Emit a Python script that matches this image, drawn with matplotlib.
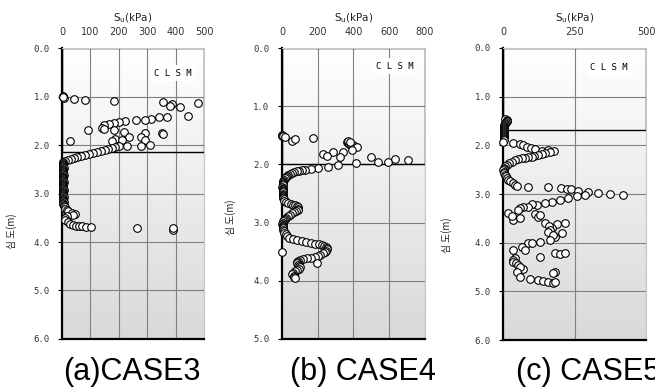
import numpy as np
import matplotlib
matplotlib.use('Agg')
import matplotlib.pyplot as plt
from matplotlib.patches import Rectangle

# ---- data (Su in kPa, depth in m) ----
case3_su = [3, 5, 7, 4, 43, 81, 184, 357, 388, 417, 380, 478, 443, 369, 343, 313, 292, 262,
            222, 202, 184, 166, 149, 140, 149, 93, 182, 219, 292, 353, 355, 236, 278, 187,
            210, 292, 175, 29, 228, 278, 311,
            200, 188, 175, 162, 150, 137, 124, 110, 96, 82, 68, 54, 42, 30, 20, 11, 5,
            4, 3, 5, 2, 4, 6, 3, 5, 4, 2, 3, 5, 6, 4, 3, 2, 4, 5, 3, 4, 6, 5, 3, 2,
            4, 5, 3, 4, 6, 5, 4, 3, 2, 4, 5, 6, 4, 3, 5, 4, 6, 5, 4, 6, 7,
            9, 11, 16, 22, 34, 46, 40, 18, 10, 11, 20, 28, 38, 48, 60, 72, 86, 102,
            263, 392, 390]
case3_depth = [0.98, 1.00, 1.02, 1.01, 1.06, 1.07, 1.09, 1.11, 1.16, 1.21, 1.19, 1.13, 1.40,
               1.42, 1.43, 1.46, 1.48, 1.49, 1.51, 1.53, 1.55, 1.57, 1.59, 1.64, 1.67, 1.69,
               1.70, 1.73, 1.75, 1.76, 1.78, 1.84, 1.83, 1.88, 1.90, 1.90, 1.92, 1.92, 2.02,
               2.01, 2.00,
               2.03, 2.05, 2.07, 2.09, 2.11, 2.13, 2.15, 2.17, 2.19, 2.21, 2.23, 2.25, 2.27,
               2.29, 2.31, 2.33, 2.35,
               2.37, 2.39, 2.41, 2.43, 2.45, 2.47, 2.49, 2.51, 2.53, 2.55, 2.57, 2.59, 2.61,
               2.63, 2.65, 2.67, 2.69, 2.71, 2.73, 2.75, 2.77, 2.79, 2.81, 2.83, 2.85, 2.87,
               2.89, 2.91, 2.93, 2.95, 2.97, 2.99, 3.01, 3.03, 3.05, 3.07, 3.09, 3.11, 3.13,
               3.15, 3.17, 3.19, 3.21, 3.23, 3.25,
               3.28, 3.31, 3.34, 3.37, 3.40, 3.42, 3.44, 3.46, 3.50, 3.55, 3.59, 3.62, 3.64,
               3.66, 3.67, 3.68, 3.69, 3.70, 3.72, 3.75, 3.72]

case4_su = [0, 2, 8, 17, 54, 73, 175,
            362, 368, 375, 385, 395, 405, 418, 372, 380,
            390, 343, 287, 231, 250, 324, 498, 535, 595, 632, 703, 414, 315, 255, 200, 162,
            130, 110, 95, 82, 68, 54, 44, 36, 28, 22, 16, 12, 8, 6, 4,
            3, 5, 2, 4, 6, 3, 5, 4, 6, 5, 7, 6, 8, 10,
            14, 22, 35, 50, 62, 73, 82, 88, 91, 88, 80, 70, 58, 45, 34, 24, 16, 10, 6, 3,
            2, 4, 6, 8, 7, 6, 9, 14, 20, 28, 40, 63, 85, 110, 135, 160, 185, 205, 222, 237,
            246, 250, 250, 246, 238, 231, 215, 200, 185, 160, 138, 118, 101, 90, 82, 82, 88,
            95, 101, 94, 82, 72, 63, 58, 65, 70, 73, 194, 0]
case4_depth = [1.49, 1.51, 1.52, 1.53, 1.59, 1.57, 1.55,
               1.61, 1.63, 1.65, 1.66, 1.67, 1.69, 1.70, 1.60, 1.62,
               1.75, 1.78, 1.78, 1.82, 1.86, 1.87, 1.88, 1.96, 1.95, 1.91, 1.92, 1.98, 2.01,
               2.04, 2.06, 2.08, 2.09, 2.10, 2.11, 2.12, 2.13, 2.14, 2.16, 2.18, 2.20, 2.22,
               2.24, 2.26, 2.28, 2.30, 2.32,
               2.34, 2.36, 2.38, 2.40, 2.42, 2.44, 2.46, 2.48, 2.50, 2.52, 2.54, 2.56, 2.58,
               2.60,
               2.62, 2.64, 2.67, 2.68, 2.69, 2.70, 2.72, 2.74, 2.76, 2.78, 2.80, 2.82, 2.84,
               2.87, 2.89, 2.92, 2.94, 2.96, 2.98, 3.00,
               3.02, 3.04, 3.06, 3.08, 3.10, 3.12, 3.14, 3.17, 3.20, 3.23, 3.26, 3.29, 3.30,
               3.32, 3.34, 3.35, 3.36, 3.37, 3.38, 3.40, 3.42, 3.44, 3.46, 3.48, 3.50, 3.53,
               3.55, 3.57, 3.59, 3.60, 3.61, 3.63, 3.64, 3.66, 3.68, 3.70, 3.72, 3.74, 3.77,
               3.79, 3.81, 3.83, 3.86, 3.88, 3.91, 3.93, 3.96, 3.70, 3.50]

case5_su = [8, 13, 15, 13, 10, 8, 6, 5, 4, 5, 4, 3, 4, 5, 4, 3, 4, 5, 3, 4, 2, 3, 2, 1,
            36, 59, 70, 83, 98, 112, 135, 158, 179, 165, 147, 135, 123, 110, 100, 88, 77,
            65, 54, 42, 30, 20, 13, 8, 5, 3, 1, 3, 5, 7, 10, 14, 19, 26, 36, 42, 48,
            86, 156, 203, 225, 238, 261, 298, 333, 374, 418,
            287, 258, 228, 199, 170, 147, 118, 100, 88, 71, 59, 54, 19, 36, 59, 30,
            112, 123, 130, 147, 188, 217, 170, 160, 165, 158, 205, 182, 175, 164, 129, 88,
            100, 65, 36, 77, 129, 182, 200, 217, 42, 36, 36, 45, 54, 71, 60, 48, 180, 176,
            59, 94, 123, 140, 158, 176, 182]
case5_depth = [1.45, 1.47, 1.49, 1.51, 1.53, 1.55, 1.57, 1.59, 1.61, 1.63, 1.65, 1.67, 1.69,
               1.71, 1.73, 1.75, 1.77, 1.79, 1.81, 1.83, 1.85, 1.87, 1.89, 1.93,
               1.96, 1.98, 2.00, 2.03, 2.05, 2.08, 2.11, 2.10, 2.11, 2.13, 2.16, 2.18, 2.20,
               2.21, 2.23, 2.24, 2.25, 2.27, 2.28, 2.31, 2.34, 2.37, 2.40, 2.43, 2.46, 2.49,
               2.51, 2.54, 2.57, 2.61, 2.64, 2.67, 2.71, 2.74, 2.78, 2.81, 2.84,
               2.85, 2.86, 2.88, 2.89, 2.90, 2.93, 2.95, 2.97, 3.00, 3.02,
               3.02, 3.05, 3.09, 3.12, 3.16, 3.19, 3.23, 3.20, 3.26, 3.26, 3.29, 3.33, 3.38,
               3.53, 3.50, 3.45,
               3.41, 3.47, 3.44, 3.60, 3.62, 3.60, 3.70, 3.66, 3.73, 3.77, 3.81, 3.88, 3.85,
               3.94, 3.98, 4.01, 4.00, 4.08, 4.14, 4.15, 4.29, 4.22, 4.23, 4.21, 4.32, 4.35,
               4.39, 4.42, 4.46, 4.53, 4.50, 4.60, 4.60, 4.63, 4.71, 4.75, 4.77, 4.78, 4.80,
               4.83, 4.80]

captions = ['(a)CASE3', '(b) CASE4', '(c) CASE5']
su_max = [500, 800, 500]
su_ticks = [[0, 100, 200, 300, 400, 500], [0, 200, 400, 600, 800], [0, 250, 500]]
depth_max = [6, 5, 6]
clsm_bottom = [2.15, 2.0, 1.68]
clsm_text_xy = [(0.78, 0.52), (0.79, 0.31), (0.74, 0.41)]
ylabel_x = [-0.32, -0.32, -0.36]
ylabel_y = [0.37, 0.42, 0.36]

panels = [(case3_su, case3_depth), (case4_su, case4_depth), (case5_su, case5_depth)]
axes_pos = [[0.0947, 0.1308, 0.2168, 0.746],
            [0.4305, 0.1308, 0.2183, 0.746],
            [0.768, 0.128, 0.2183, 0.749]]
caption_x = [132, 363, 588]


def main():
    fig = plt.figure(figsize=(6.55, 3.9), dpi=100)

    for i, (su, depth) in enumerate(panels):
        ax = fig.add_axes(axes_pos[i])
        xmax = su_max[i]
        ymax = depth_max[i]

        # grey gradient background
        grad = np.linspace(1.0, 0.85, 256)[:, None]
        rgb = np.dstack([grad, grad, grad])
        ax.imshow(rgb, extent=[0, xmax, ymax, 0], aspect='auto', zorder=0)

        ax.set_xlim(0, xmax)
        ax.set_ylim(ymax, 0)

        # CLSM zone
        ax.add_patch(Rectangle((0, 0), xmax, clsm_bottom[i], facecolor='none',
                               edgecolor='black', lw=1.0, zorder=2))
        ax.text(clsm_text_xy[i][0], 1 - clsm_text_xy[i][1] / ymax, 'C L S M',
                transform=ax.transAxes, ha='center', va='center', fontsize=6.5,
                family='DejaVu Sans Mono',
                bbox=dict(facecolor='white', edgecolor='none', pad=2.5), zorder=3)

        ax.scatter(su, depth, s=30, facecolor='white', edgecolor='black',
                   linewidth=0.8, zorder=4, clip_on=False)

        # axes style
        ax.xaxis.tick_top()
        ax.xaxis.set_label_position('top')
        ax.set_xticks(su_ticks[i])
        ax.set_yticks(np.arange(0, ymax + 0.1, 1.0))
        ax.set_yticklabels(['%.1f' % v for v in np.arange(0, ymax + 0.1, 1.0)],
                           family='DejaVu Sans Mono', fontsize=6.5, color='#333333')
        ax.set_xticklabels([str(v) for v in su_ticks[i]], fontsize=7, color='#333333')
        ax.tick_params(axis='x', length=0, pad=8)
        ax.tick_params(axis='y', length=3, width=0.8, pad=6)
        ax.grid(True, color='#808080', lw=0.8, zorder=1)
        ax.set_axisbelow(True)
        for side in ['left', 'bottom']:
            ax.spines[side].set_color('black')
            ax.spines[side].set_linewidth(1.6)
        for side in ['top', 'right']:
            ax.spines[side].set_color('#c8c8c8')
            ax.spines[side].set_linewidth(0.8)

        ax.set_xlabel(r'S$_\mathrm{u}$(kPa)', fontsize=7.5, labelpad=4, color='#222222')
        ax.set_ylabel('심 도(m)', family=['Noto Sans CJK KR', 'DejaVu Sans'],
                      fontsize=7, color='#222222')
        ax.yaxis.set_label_coords(ylabel_x[i], ylabel_y[i])

        fig.text(caption_x[i] / 655, 1 - 372 / 390, captions[i], fontsize=22,
                 family='Liberation Sans', ha='center', va='center')

    fig.savefig('out.png', dpi=100)


if __name__ == '__main__':
    main()
